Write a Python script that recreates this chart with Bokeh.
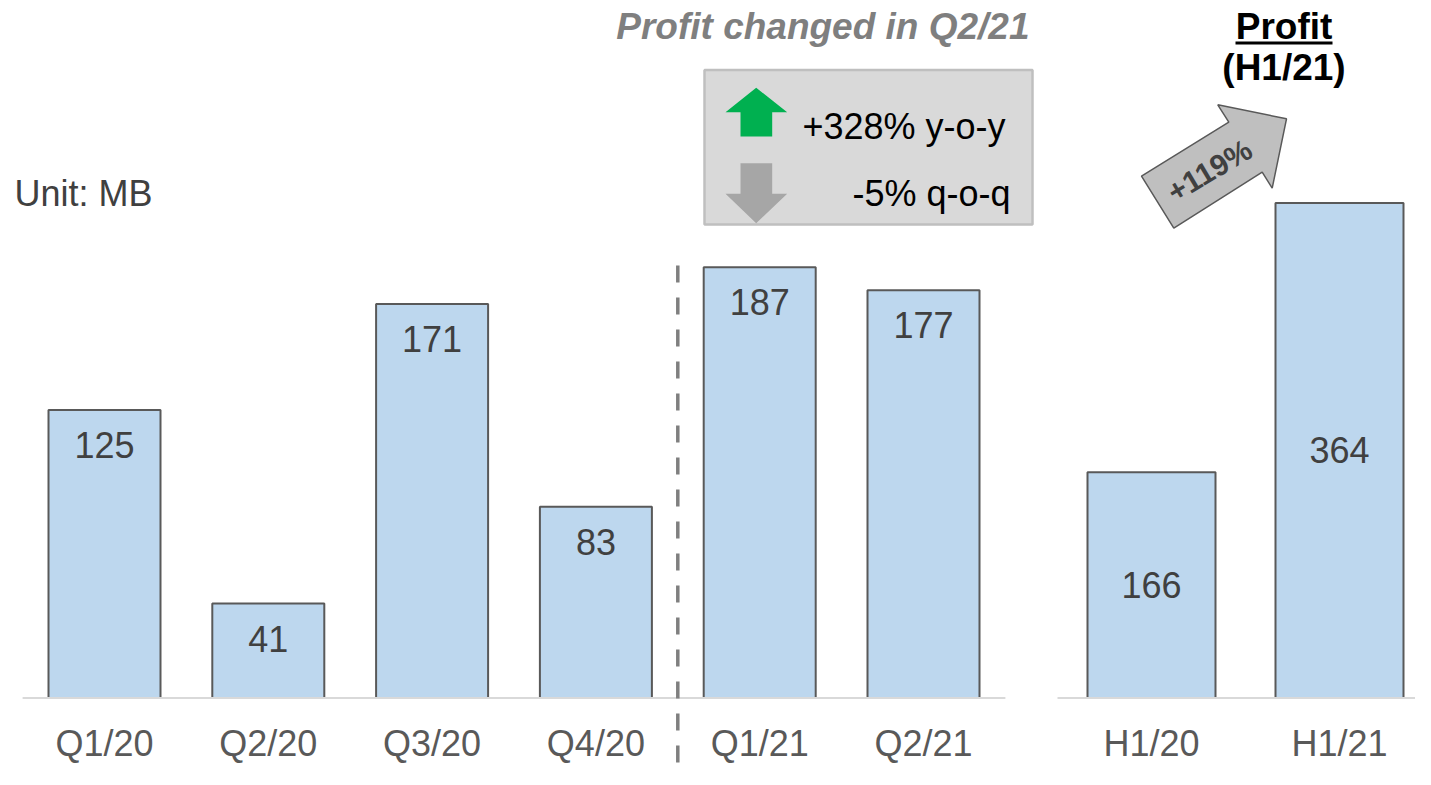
from bokeh.plotting import figure
from bokeh.models import Range1d, ColumnDataSource
from bokeh.embed import file_html
from bokeh.resources import INLINE
from bokeh.core.properties import value

# ---------------- data ----------------
quarters = ["Q1/20", "Q2/20", "Q3/20", "Q4/20", "Q1/21", "Q2/21"]
quarter_profit = [125, 41, 171, 83, 187, 177]
halves = ["H1/20", "H1/21"]
half_profit = [166, 364]
unit_label = "Unit: MB"
box_title = "Profit changed in Q2/21"
yoy_label = "+328% y-o-y"
qoq_label = "-5% q-o-q"
half_title = "Profit"
half_subtitle = "(H1/21)"
growth_label = "+119%"
split_before = "Q1/21"

# ---------------- style ----------------
FONT = "Liberation Sans"
BAR_FILL = "#bdd7ee"
BAR_LINE = "#595959"
BASE_LINE = "#d9d9d9"
VAL_COLOR = "#404040"
CAT_COLOR = "#595959"

W, H = 1415, 769
OX, OY = 0, 0          # picture origin of the figure

# pixel geometry (picture coordinates)
Q_C0, Q_STEP, Q_K = 104.0, 163.8, 2.304
H_C0, H_STEP, H_K = 1151.0, 188.0, 1.3599
BASE = 697.5


def qx(px):
    return (px - Q_C0) / Q_STEP


def qy(py):
    return (BASE - py) / Q_K


def hx(px):
    return (px - H_C0) / H_STEP


def hy(py):
    return (BASE - py) / H_K


p = figure(width=W, height=H, output_backend="svg", toolbar_location=None,
           x_range=Range1d(qx(OX), qx(OX + W)), y_range=Range1d(qy(OY + H), qy(OY)),
           x_axis_location=None, y_axis_location=None, min_border=0,
           outline_line_color=None, background_fill_color="white",
           border_fill_color="white")
p.grid.visible = False
p.extra_x_ranges = {"h": Range1d(hx(OX), hx(OX + W))}
p.extra_y_ranges = {"h": Range1d(hy(OY + H), hy(OY))}
HR = dict(x_range_name="h", y_range_name="h")


def txt(x, y, s, size, color, align="center", style="normal", angle=0.0, half=False):
    kw = HR if half else {}
    p.text(x=[x], y=[y], text=[s], text_font=value(FONT), text_font_size=f"{size}px",
           text_color=color, text_align=align, text_baseline="middle",
           text_font_style=style, angle=angle, **kw)


# ---------------- quarterly bars ----------------
qsrc = ColumnDataSource(dict(
    x=list(range(len(quarters))), top=quarter_profit, cat=quarters,
    lab=[str(v) for v in quarter_profit],
    laby=[v - 35.0 / Q_K for v in quarter_profit],
    caty=[qy(743)] * len(quarters)))
p.vbar(x="x", top="top", bottom=0, width=112 / Q_STEP, source=qsrc,
       fill_color=BAR_FILL, line_color=BAR_LINE, line_width=2)
p.segment(x0=-0.5, y0=0, x1=len(quarters) - 0.5, y1=0, line_color=BASE_LINE, line_width=2)
p.text(x="x", y="laby", text="lab", source=qsrc, text_font=value(FONT),
       text_font_size="36px", text_color=VAL_COLOR, text_align="center", text_baseline="middle")
p.text(x="x", y="caty", text="cat", source=qsrc, text_font=value(FONT),
       text_font_size="36px", text_color=CAT_COLOR, text_align="center", text_baseline="middle")

# dashed separator
sep_x = quarters.index(split_before) - 0.5
p.segment(x0=sep_x, y0=qy(265), x1=sep_x, y1=qy(OY + H + 20), line_color="#7f7f7f",
          line_width=3.5, line_dash="17 15")

# ---------------- half-year bars ----------------
hsrc = ColumnDataSource(dict(
    x=list(range(len(halves))), top=half_profit, cat=halves,
    lab=[str(v) for v in half_profit],
    laby=[v / 2 for v in half_profit],
    caty=[hy(743)] * len(halves)))
p.vbar(x="x", top="top", bottom=0, width=128 / H_STEP, source=hsrc,
       fill_color=BAR_FILL, line_color=BAR_LINE, line_width=2, **HR)
p.segment(x0=-0.5, y0=0, x1=len(halves), y1=0, line_color=BASE_LINE, line_width=2, **HR)
p.text(x="x", y="laby", text="lab", source=hsrc, text_font=value(FONT),
       text_font_size="36px", text_color=VAL_COLOR, text_align="center",
       text_baseline="middle", **HR)
p.text(x="x", y="caty", text="cat", source=hsrc, text_font=value(FONT),
       text_font_size="36px", text_color=CAT_COLOR, text_align="center",
       text_baseline="middle", **HR)

# ---------------- annotations ----------------
txt(qx(14), qy(193), unit_label, 36, VAL_COLOR, align="left")
txt(qx(1029), qy(26), box_title, 37, "#7f7f7f", align="right", style="bold italic")

p.quad(left=qx(704), right=qx(1032), top=qy(69.5), bottom=qy(224),
       fill_color="#d9d9d9", line_color="#bfbfbf", line_width=2.5)
up_pts = [(755.7, 87.3), (786.7, 111.7), (771.7, 111.7), (771.7, 136), (740, 136),
          (740, 111.7), (725, 111.7)]
p.patch(x=[qx(a) for a, b in up_pts], y=[qy(b) for a, b in up_pts],
        fill_color="#00b050", line_color=None)
dn_pts = [(740, 162.7), (771.7, 162.7), (771.7, 193.3), (786.7, 193.3), (755.7, 222.7),
          (725, 193.3), (740, 193.3)]
p.patch(x=[qx(a) for a, b in dn_pts], y=[qy(b) for a, b in dn_pts],
        fill_color="#a6a6a6", line_color=None)
txt(qx(802), qy(126), yoy_label, 36, "#000000", align="left")
txt(qx(1010), qy(193), qoq_label, 36, "#000000", align="right")

txt(hx(1283.5), hy(25.5), half_title, 37, "#000000", style="bold", half=True)
p.segment(x0=hx(1235), y0=hy(42.5), x1=hx(1332), y1=hy(42.5), line_color="#000000",
          line_width=3, **HR)
txt(hx(1283.5), hy(67), half_subtitle, 37, "#000000", style="bold", half=True)

arr_pts = [(1141, 175.7), (1228.3, 121.7), (1217.3, 104.3), (1286, 118.3),
           (1271.7, 187.7), (1261.7, 171.7), (1173.3, 227.7)]
p.patch(x=[hx(a) for a, b in arr_pts], y=[hy(b) for a, b in arr_pts],
        fill_color="#bfbfbf", line_color="#595959", line_width=1.5, **HR)
txt(hx(1209), hy(170), growth_label, 30, VAL_COLOR, style="bold", angle=0.54, half=True)

open("out.html", "w").write(file_html(p, INLINE))
